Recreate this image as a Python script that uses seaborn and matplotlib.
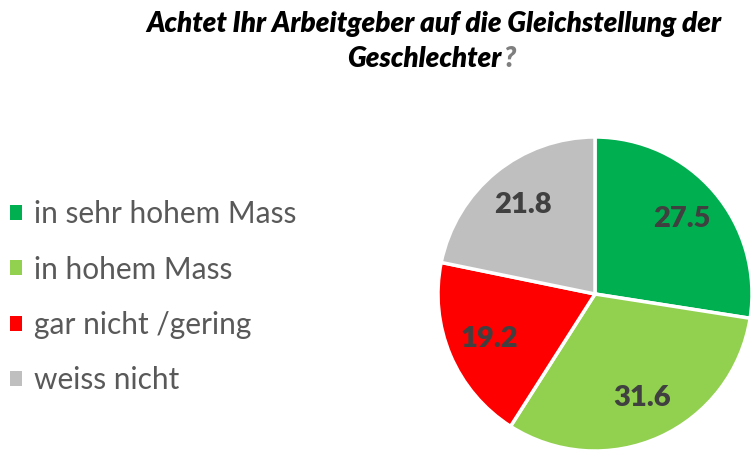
import matplotlib
matplotlib.use("Agg")
import matplotlib.pyplot as plt
import seaborn as sns

# Daten
kategorien = ['in sehr hohem Mass', 'in hohem Mass', 'gar nicht /gering', 'weiss nicht']
werte = [27.5, 31.6, 19.2, 21.8]
farben = ['#00B050', '#92D050', '#FF0000', '#BFBFBF']

sns.set_theme(style="white")
plt.rcParams['font.family'] = ['Lato', 'DejaVu Sans']

fig = plt.figure(figsize=(7.54, 4.5), dpi=100)
W, H = 754, 450

# Kreisdiagramm
cx, cy, r = 595, 294, 157
ax = fig.add_axes([(cx - r) / W, 1 - (cy + r) / H, 2 * r / W, 2 * r / H])
wedges, texts = ax.pie(werte, colors=farben, startangle=90, counterclock=False,
                       labels=[f'{v:.1f}' for v in werte], labeldistance=0.73,
                       wedgeprops=dict(edgecolor='white', linewidth=2.5),
                       textprops=dict(color='#404040', fontsize=21, fontweight='heavy'))
for t in texts:
    t.set_horizontalalignment('center')
    t.set_verticalalignment('center')
ax.set_xlim(-1, 1)
ax.set_ylim(-1, 1)
ax.set_aspect('equal')

# Legende
fig.legend(wedges, kategorien, loc='upper left', bbox_to_anchor=(0.0, 1 - 190 / H),
           frameon=False, fontsize=21.5, labelcolor='#595959',
           handlelength=0.4, handleheight=0.4, handletextpad=0.38,
           labelspacing=0.91, borderaxespad=0, borderpad=0.35)
for h in fig.legends[0].legend_handles:
    h.set_edgecolor('none')

# Titel
fig.text(434 / W, 1 - 24 / H, 'Achtet Ihr Arbeitgeber auf die Gleichstellung der',
         ha='center', va='center', fontsize=20, fontweight='heavy', fontstyle='italic',
         color='black')
t2 = fig.text(424 / W, 1 - 59 / H, 'Geschlechter', ha='center', va='center',
              fontsize=20, fontweight='heavy', fontstyle='italic', color='black')
fig.canvas.draw()
plt.annotate('?', xy=(1, 0), xycoords=t2, xytext=(1, 0), textcoords='offset points',
             va='bottom', ha='left', fontsize=20, fontweight='heavy',
             fontstyle='italic', color='#7F7F7F')

fig.savefig('out.png', dpi=100)
